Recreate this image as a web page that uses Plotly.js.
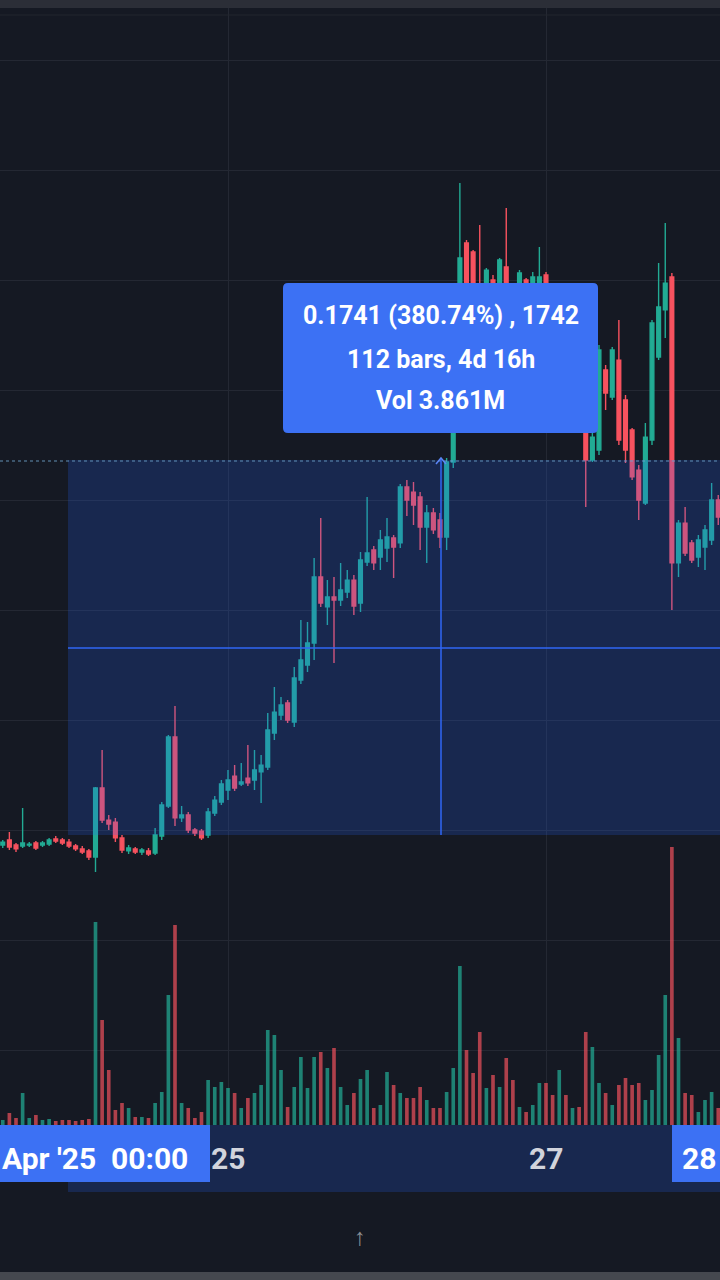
<!DOCTYPE html>
<html><head><meta charset="utf-8">
<script src="https://cdn.plot.ly/plotly-3.0.1.min.js"></script>
<style>html,body{margin:0;padding:0;background:#151923;overflow:hidden}#chart{width:720px;height:1280px}</style>
</head><body><div id="chart"></div>
<script>
// ---- data (1h bars, first bar 2025-04-23 14:00) ----
const firstBar = '2025-04-23T14:00:00Z';
const open = [0.0432,0.0455,0.0432,0.0427,0.0432,0.0441,0.0432,0.0436,0.0459,0.0455,
0.0445,0.0427,0.0414,0.0405,0.0377,0.0691,0.0545,0.0536,0.0464,0.0405,
0.0414,0.0400,0.0405,0.0395,0.0473,0.0609,0.0923,0.0555,0.0568,0.0500,
0.0495,0.0477,0.0577,0.0627,0.0682,0.0745,0.0709,0.0736,0.0727,0.0764,
0.0786,0.0941,0.1023,0.1077,0.0991,0.1182,0.1250,0.1350,0.1650,0.1514,
0.1559,0.1545,0.1582,0.1636,0.1532,0.1718,0.1773,0.1741,0.1782,0.1827,
0.1805,0.2059,0.2036,0.2014,0.1877,0.1941,0.1909,0.1832,0.2173,0.2432,
0.3168,0.3127,0.2977,0.2909,0.3000,0.2955,0.3059,0.2909,0.2932,0.3000,
0.2955,0.2977,0.3023,0.2909,0.2750,0.2841,0.2591,0.2636,0.2364,0.2182,
0.2227,0.2591,0.2468,0.2636,0.2455,0.2318,0.2136,0.1986,0.2273,0.2650,
0.2864,0.3014,0.1714,0.1895,0.1805,0.1741,0.1786,0.1818,0.2000];
const high = [0.0455,0.0491,0.0441,0.0600,0.0445,0.0450,0.0450,0.0464,0.0473,0.0464,
0.0459,0.0436,0.0427,0.0414,0.0695,0.0864,0.0568,0.0555,0.0477,0.0432,
0.0423,0.0418,0.0418,0.0509,0.0627,0.0932,0.1064,0.0609,0.0582,0.0509,
0.0505,0.0600,0.0655,0.0727,0.0773,0.0795,0.0805,0.0886,0.0864,0.0841,
0.1032,0.1150,0.1105,0.1091,0.1241,0.1455,0.1445,0.1736,0.1918,0.1636,
0.1650,0.1714,0.1682,0.1659,0.1764,0.2014,0.1791,0.1864,0.1918,0.1841,
0.2073,0.2091,0.2082,0.2036,0.1977,0.1964,0.1941,0.2191,0.2455,0.3441,
0.3182,0.3136,0.3250,0.3055,0.3023,0.3100,0.3327,0.2955,0.3045,0.3009,
0.3036,0.3150,0.3036,0.2932,0.2886,0.2864,0.2682,0.2659,0.2386,0.2318,
0.2705,0.2614,0.2695,0.2818,0.2477,0.2327,0.2159,0.2350,0.2818,0.3077,
0.3259,0.3032,0.1909,0.1968,0.1818,0.1841,0.1886,0.2077,0.2023];
const low = [0.0418,0.0409,0.0400,0.0418,0.0423,0.0409,0.0423,0.0427,0.0441,0.0432,
0.0418,0.0405,0.0391,0.0364,0.0309,0.0532,0.0500,0.0445,0.0395,0.0391,
0.0391,0.0386,0.0382,0.0386,0.0455,0.0600,0.0518,0.0536,0.0486,0.0473,
0.0455,0.0464,0.0564,0.0614,0.0636,0.0677,0.0700,0.0700,0.0682,0.0623,
0.0773,0.0909,0.1000,0.0986,0.0968,0.1164,0.1218,0.1273,0.1514,0.1432,
0.1259,0.1518,0.1555,0.1477,0.1491,0.1700,0.1682,0.1682,0.1718,0.1645,
0.1782,0.1927,0.1886,0.1773,0.1714,0.1845,0.1782,0.1773,0.2145,0.2409,
0.2864,0.2918,0.2909,0.2886,0.2864,0.2932,0.2886,0.2818,0.2909,0.2927,
0.2932,0.2955,0.2864,0.2705,0.2705,0.2545,0.2555,0.2327,0.1968,0.2173,
0.2205,0.2409,0.2455,0.2250,0.2168,0.2091,0.1909,0.1977,0.2250,0.2636,
0.2736,0.1500,0.1650,0.1745,0.1714,0.1695,0.1682,0.1795,0.1886];
const close = [0.0445,0.0423,0.0414,0.0441,0.0436,0.0418,0.0441,0.0455,0.0450,0.0441,
0.0427,0.0414,0.0400,0.0377,0.0691,0.0545,0.0527,0.0464,0.0409,0.0418,
0.0400,0.0409,0.0391,0.0477,0.0614,0.0923,0.0555,0.0568,0.0500,0.0486,
0.0464,0.0582,0.0636,0.0709,0.0727,0.0691,0.0718,0.0714,0.0773,0.0795,
0.0955,0.1036,0.1068,0.1000,0.1191,0.1273,0.1350,0.1650,0.1532,0.1559,
0.1545,0.1591,0.1636,0.1518,0.1727,0.1759,0.1714,0.1818,0.1832,0.1786,
0.2059,0.2000,0.1977,0.1877,0.1941,0.1864,0.1832,0.2173,0.2432,0.3100,
0.2909,0.2955,0.2932,0.3045,0.2932,0.3091,0.2909,0.2864,0.3032,0.2955,
0.3014,0.3014,0.2909,0.2750,0.2841,0.2591,0.2636,0.2364,0.2182,0.2286,
0.2682,0.2486,0.2682,0.2273,0.2227,0.2105,0.2000,0.2286,0.2805,0.2877,
0.2986,0.1714,0.1895,0.1759,0.1727,0.1818,0.1864,0.2000,0.1923];
const volume = [5000,12000,7000,32000,7000,10000,5000,6000,4000,5000,
5000,4000,5000,6000,203000,105000,55000,15000,22000,17000,
8000,8000,7000,22000,33000,130000,200000,22000,17000,7000,
13000,45000,38000,43000,37000,32000,17000,27000,32000,40000,
95000,90000,55000,18000,38000,68000,37000,68000,73000,57000,
77000,38000,20000,32000,46000,55000,17000,20000,53000,40000,
32000,27000,27000,38000,25000,17000,17000,33000,57000,159000,
75000,52000,93000,37000,50000,38000,67000,45000,18000,13000,
20000,42000,42000,30000,55000,30000,17000,18000,93000,78000,
42000,32000,20000,40000,47000,40000,42000,25000,35000,70000,
130000,278000,87000,32000,30000,13000,25000,33000,17000];
const dayTickDates = ['2025-04-25 00:00','2025-04-27 00:00'];
const dayTickLabels = ['25','27'];
const measureLines = ['0.1741 (380.74%) , 1742','112 bars, 4d 16h','Vol 3.861M'];
const startLabel = ["Apr '25", '00:00'];
const endLabel = '28';

// ---- build ----
const times = open.map((_, k) => new Date(Date.parse(firstBar) + k * 3600000).toISOString().slice(0, 16).replace('T', ' '));
const UP = '#22ab94', DOWN = '#f7525f';
const volColors = close.map((c, k) => c >= open[k] ? 'rgba(34,171,148,0.72)' : 'rgba(247,82,95,0.68)');
const BG = '#151923';
const W = 720, H = 1280;
const px = x => x / W, py = y => 1 - y / H;
function rrect(x0, y0, x1, y1, r) {
  const P = (x, y) => px(x) + ',' + py(y);
  return 'M' + P(x0 + r, y0) + ' L' + P(x1 - r, y0) + ' Q' + P(x1, y0) + ' ' + P(x1, y0 + r) +
    ' L' + P(x1, y1 - r) + ' Q' + P(x1, y1) + ' ' + P(x1 - r, y1) +
    ' L' + P(x0 + r, y1) + ' Q' + P(x0, y1) + ' ' + P(x0, y1 - r) +
    ' L' + P(x0, y0 + r) + ' Q' + P(x0, y0) + ' ' + P(x0 + r, y0) + ' Z';
}
const TINT = 'rgba(41,98,255,0.2)';
const BLUE = '#3c71f4';
const rectP = (x0, y0, x1, y1, fill) => ({type: 'rect', xref: 'paper', yref: 'paper', x0: px(x0), x1: px(x1), y0: py(y1), y1: py(y0), fillcolor: fill, line: {width: 0}, layer: 'above'});
const lineP = (x0, y0, x1, y1, color, width, dash) => ({type: 'line', xref: 'paper', yref: 'paper', x0: px(x0), x1: px(x1), y0: py(y0), y1: py(y1), line: {color: color, width: width, dash: dash || 'solid'}, layer: 'above'});

const shapes = [
  rectP(68, 460, 720, 835, TINT),
  lineP(0, 461, 720, 461, 'rgba(110,165,205,0.85)', 1, 'dot'),
  lineP(68, 648, 720, 648, '#2f66f5', 1.5),
  lineP(441, 458, 441, 835, '#2f66f5', 1.5),
  {type: 'path', xref: 'paper', yref: 'paper', path: 'M' + px(436) + ',' + py(464) + ' L' + px(441) + ',' + py(458) + ' L' + px(446) + ',' + py(464), line: {color: '#5b86f7', width: 1.5}, layer: 'above'},
  rectP(0, 1125, 720, 1280, BG),
  rectP(68, 1125, 720, 1192, TINT),
  rectP(-20, 1125, 210, 1182, BLUE),
  rectP(672, 1125, 740, 1182, BLUE),
  rectP(0, 0, 720, 8, '#2b2e37'),
  lineP(0, 15, 720, 15, '#23262f', 1),
  rectP(0, 1272, 720, 1280, '#45484f'),
  {type: 'path', xref: 'paper', yref: 'paper', path: rrect(283, 283, 598, 433, 5), fillcolor: BLUE, line: {width: 0}, layer: 'above'}
];

const font = (size, color) => ({family: 'Roboto, "Noto Sans", sans-serif', size: size, color: color});
const annotations = [];
[316, 359, 401].forEach((y, k) => annotations.push({xref: 'paper', yref: 'paper', x: px(440.5), y: py(y), text: '<b>' + measureLines[k] + '</b>', showarrow: false, xanchor: 'center', yanchor: 'middle', font: font(25, '#ffffff')}));
dayTickDates.forEach((d, k) => annotations.push({xref: 'x', yref: 'paper', x: d, y: py(1158), text: '<b>' + dayTickLabels[k] + '</b>', showarrow: false, xanchor: 'center', yanchor: 'middle', font: font(30, '#d1d4dc')}));
annotations.push({xref: 'paper', yref: 'paper', x: px(0), y: py(1158), text: '<b>' + startLabel[0] + '</b>', showarrow: false, xanchor: 'left', yanchor: 'middle', font: font(30, '#ffffff')});
annotations.push({xref: 'paper', yref: 'paper', x: px(109), y: py(1158), text: '<b>' + startLabel[1] + '</b>', showarrow: false, xanchor: 'left', yanchor: 'middle', font: font(30, '#ffffff')});
annotations.push({xref: 'paper', yref: 'paper', x: px(718), y: py(1158), text: '<b>' + endLabel + '</b>', showarrow: false, xanchor: 'right', yanchor: 'middle', font: font(30, '#ffffff')});
annotations.push({xref: 'paper', yref: 'paper', x: px(360), y: py(1237), text: '<b>↑</b>', showarrow: false, xanchor: 'center', yanchor: 'middle', font: font(24, '#8c8f96')});

const traces = [
  {type: 'bar', x: times, y: volume, yaxis: 'y2', marker: {color: volColors, line: {width: 0}}, width: 3600000 * 0.55, hoverinfo: 'skip'},
  {type: 'candlestick', x: times, open: open, high: high, low: low, close: close,
   increasing: {line: {color: UP, width: 1.4}, fillcolor: UP},
   decreasing: {line: {color: DOWN, width: 1.4}, fillcolor: DOWN},
   hoverinfo: 'skip'}
];

const layout = {
  width: W, height: H, margin: {l: 0, r: 0, t: 0, b: 0},
  paper_bgcolor: BG, plot_bgcolor: BG, showlegend: false, boxgap: 0.2,
  xaxis: {type: 'date', range: ['2025-04-23 13:35:06', '2025-04-28 02:15:51'], showticklabels: false, ticks: '',
          showgrid: true, gridcolor: '#242833', gridwidth: 1, tick0: '2025-04-25', dtick: 2 * 86400000,
          rangeslider: {visible: false}, zeroline: false, showline: false, fixedrange: true},
  yaxis: {range: [-0.154545, 0.427273], showticklabels: false, ticks: '', showgrid: true, gridcolor: '#242833',
          gridwidth: 1, tick0: 0, dtick: 0.05, zeroline: false, showline: false, fixedrange: true},
  yaxis2: {overlaying: 'y', range: [-155000, 1125000], showticklabels: false, showgrid: false, zeroline: false, ticks: '', fixedrange: true},
  shapes: shapes, annotations: annotations
};
Plotly.newPlot('chart', traces, layout, {staticPlot: true, displayModeBar: false});
</script></body></html>
